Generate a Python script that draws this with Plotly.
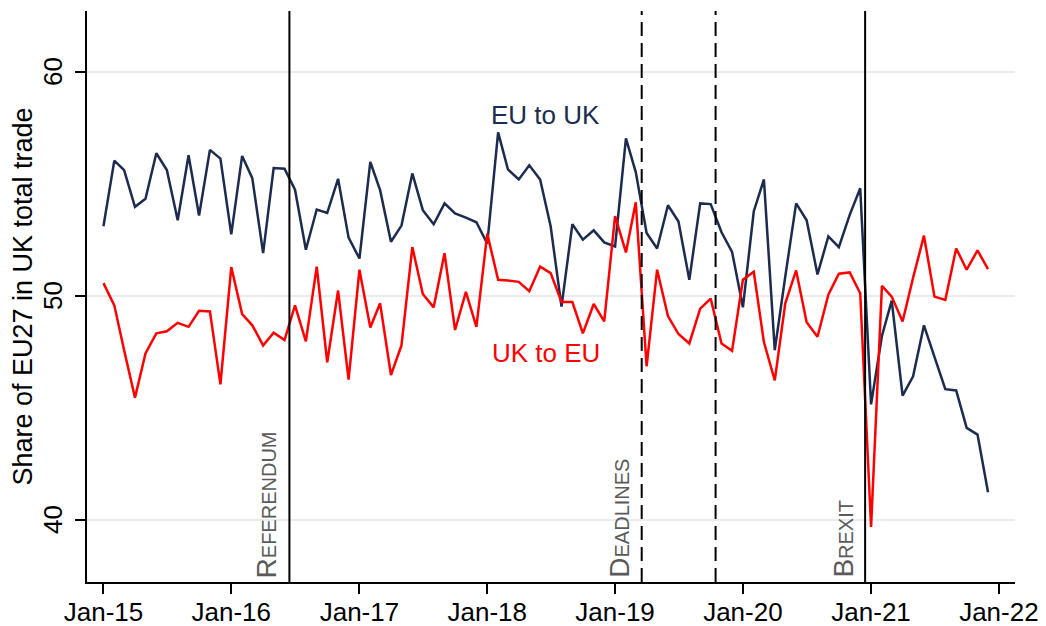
import pandas as pd
import plotly.graph_objects as go

months = pd.date_range("2015-01-01", periods=84, freq="MS")

eu_to_uk = [
    53.11, 56.04, 55.62, 53.98, 54.34, 56.37, 55.62, 53.38, 56.28, 53.59, 56.52, 56.13,
    52.75, 56.25, 55.26, 51.91, 55.71, 55.68, 54.74, 52.06, 53.86, 53.71, 55.23, 52.60,
    51.67, 55.98, 54.72, 52.42, 53.14, 55.47, 53.83, 53.20, 54.13, 53.68, 53.50, 53.29,
    52.33, 57.30, 55.65, 55.20, 55.83, 55.20, 53.11, 49.52, 53.20, 52.51, 52.93, 52.39,
    52.21, 57.03, 55.53, 52.81, 52.12, 54.05, 53.32, 50.72, 54.13, 54.10, 52.84, 51.97,
    49.49, 53.77, 55.20, 47.58, 50.87, 54.13, 53.38, 50.96, 52.66, 52.18, 53.62, 54.81,
    45.16, 48.21, 49.79, 45.55, 46.41, 48.69, 47.28, 45.84, 45.78, 44.11, 43.81, 41.24,
]

uk_to_eu = [
    50.57, 49.58, 47.58, 45.46, 47.43, 48.33, 48.42, 48.80, 48.62, 49.34, 49.31, 46.05,
    51.29, 49.19, 48.69, 47.79, 48.36, 48.03, 49.58, 47.97, 51.31, 47.04, 50.24, 46.26,
    51.17, 48.59, 49.67, 46.47, 47.79, 52.18, 50.09, 49.49, 51.91, 48.48, 50.18, 48.62,
    52.78, 50.72, 50.69, 50.63, 50.21, 51.31, 51.02, 49.73, 49.73, 48.33, 49.64, 48.86,
    53.56, 51.94, 54.18, 46.86, 51.17, 49.10, 48.30, 47.88, 49.43, 49.88, 47.88, 47.55,
    50.72, 51.08, 47.94, 46.23, 49.67, 51.14, 48.83, 48.18, 50.06, 50.99, 51.05, 50.12,
    39.69, 50.45, 49.97, 48.86, 50.81, 52.69, 49.97, 49.82, 52.12, 51.17, 52.03, 51.20,
]

tick_dates = ["2015-01-01", "2016-01-01", "2017-01-01", "2018-01-01",
              "2019-01-01", "2020-01-01", "2021-01-01", "2022-01-01"]
tick_labels = ["Jan-15", "Jan-16", "Jan-17", "Jan-18", "Jan-19", "Jan-20", "Jan-21", "Jan-22"]
y_ticks = [40, 50, 60]
y_tick_labels = ["40", "50", "60"]

event_dates = ["2016-06-15", "2019-03-18", "2019-10-15", "2020-12-15"]
event_labels = ["Referendum", "Deadlines", "", "Brexit"]
event_dash = ["solid", "14px,7px", "14px,7px", "solid"]

NAVY = "#1c2b4e"
RED = "#ff0000"
FONT = "Liberation Sans, Arial"

fig = go.Figure()
fig.add_trace(go.Scatter(x=months, y=eu_to_uk, mode="lines",
                         line=dict(color=NAVY, width=2.5), name="EU to UK"))
fig.add_trace(go.Scatter(x=months, y=uk_to_eu, mode="lines",
                         line=dict(color=RED, width=2.5), name="UK to EU"))

for d, lab, dash in zip(event_dates, event_labels, event_dash):
    fig.add_shape(type="line", xref="x", yref="paper", x0=d, x1=d, y0=0, y1=1,
                  line=dict(color="black", width=2, dash=dash), layer="above")
    if lab:
        fig.add_annotation(x=d, y=0, xref="x", yref="paper", text=lab,
                           textangle=-90, xanchor="right", yanchor="bottom",
                           xshift=-5, yshift=2, showarrow=False,
                           font=dict(family=FONT, size=28,
                                     color="#5a5a5a", variant="small-caps"))

# vertical (rotated) y tick labels, positioned on the y scale
for v, t in zip(y_ticks, y_tick_labels):
    fig.add_annotation(x=0, y=v, xref="paper", yref="y", text=t,
                       textangle=-90, xanchor="center", yanchor="middle",
                       xshift=-34, showarrow=False,
                       font=dict(family=FONT, size=26, color="black"))

fig.add_annotation(x="2018-01-07", y=58.07, xref="x", yref="y", text="EU to UK",
                   xanchor="left", yanchor="middle", showarrow=False,
                   font=dict(family=FONT, size=26, color=NAVY))
fig.add_annotation(x="2018-01-10", y=47.46, xref="x", yref="y", text="UK to EU",
                   xanchor="left", yanchor="middle", showarrow=False,
                   font=dict(family=FONT, size=26, color=RED))

# page body has an 8px margin: figure is sized to fill the remaining window
fig.update_layout(
    width=1038, height=618,
    margin=dict(l=79, r=31, t=3, b=44),
    paper_bgcolor="white", plot_bgcolor="white",
    showlegend=False,
    font=dict(family=FONT, size=25, color="black"),
    xaxis=dict(
        type="date", automargin=False,
        range=["2014-11-15", "2022-02-16"],
        tickvals=tick_dates, ticktext=tick_labels,
        showgrid=False, zeroline=False,
        showline=True, linecolor="black", linewidth=1.5,
        ticks="outside", ticklen=10, tickwidth=1.5, tickcolor="black",
        tickfont=dict(size=26), ticklabelstandoff=-4,
    ),
    yaxis=dict(
        automargin=False,
        range=[37.23, 62.72],
        tickvals=y_ticks, showticklabels=False,
        showgrid=True, gridcolor="#e8ecf0", gridwidth=1.5,
        zeroline=False,
        showline=True, linecolor="black", linewidth=1.5,
        ticks="outside", ticklen=10, tickwidth=1.5, tickcolor="black",
        title=dict(text="Share of EU27 in UK total trade", font=dict(size=27), standoff=44),
    ),
)

fig.write_html("out.html")
